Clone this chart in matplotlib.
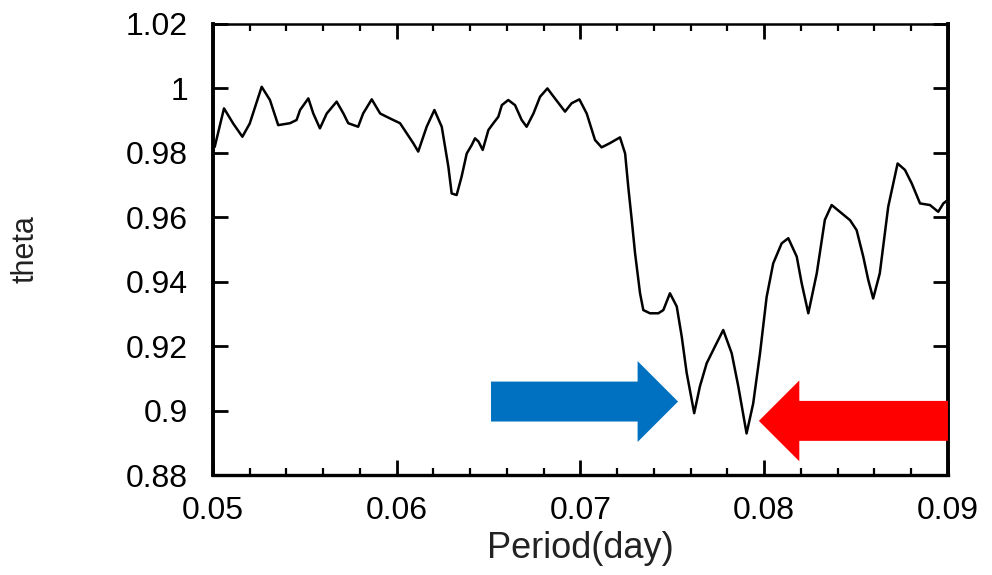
import numpy as np
import matplotlib.pyplot as plt
from matplotlib.patches import FancyArrow
from matplotlib.ticker import MultipleLocator, FormatStrFormatter

plt.rcParams['font.family'] = ['Liberation Sans', 'DejaVu Sans']

### data
period = [0.0501, 0.0506, 0.0511, 0.0516, 0.0520, 0.05265, 0.0531, 0.05355, 0.05419,
          0.05455, 0.05474, 0.05519, 0.05546, 0.05582, 0.05619, 0.05673, 0.0571,
          0.05736, 0.0579, 0.05817, 0.05864, 0.0591, 0.05945, 0.05981, 0.06018,
          0.06054, 0.0609, 0.06117, 0.06163, 0.06205, 0.06245, 0.06281, 0.06299,
          0.06326, 0.06353, 0.06381, 0.06408, 0.06426, 0.06445, 0.06468, 0.06499,
          0.06526, 0.06553, 0.06572, 0.06607, 0.06644, 0.0668, 0.06707, 0.06744,
          0.0678, 0.0682, 0.06861, 0.06916, 0.06952, 0.06994, 0.07034, 0.07079,
          0.07115, 0.0716, 0.07215, 0.07243, 0.0726, 0.07279, 0.07297, 0.07324,
          0.07342, 0.07378, 0.07424, 0.07451, 0.07487, 0.07524, 0.07551, 0.07578,
          0.07619, 0.0765, 0.07687, 0.07732, 0.07777, 0.07823, 0.07859, 0.07904,
          0.0794, 0.07977, 0.08013, 0.08049, 0.08095, 0.08131, 0.08177, 0.08204,
          0.0824, 0.08286, 0.0833, 0.08367, 0.08412, 0.08467, 0.08503, 0.08539,
          0.08566, 0.08593, 0.08629, 0.08675, 0.08726, 0.08766, 0.08803, 0.08848,
          0.08902, 0.08947, 0.08975, 0.0900]
theta = [0.9820, 0.9938, 0.9891, 0.9850, 0.9891, 1.0005, 0.9964, 0.9886, 0.9892,
         0.9902, 0.9933, 0.9969, 0.9922, 0.9876, 0.9922, 0.9959, 0.9922,
         0.9892, 0.9881, 0.9922, 0.9966, 0.9922, 0.9912, 0.9902, 0.9892,
         0.9861, 0.9830, 0.9804, 0.9881, 0.9933, 0.9881, 0.9757, 0.9674,
         0.9669, 0.9726, 0.9798, 0.9824, 0.9845, 0.9835, 0.9809, 0.9871,
         0.9892, 0.9912, 0.9948, 0.9964, 0.9948, 0.9902, 0.9881, 0.9922,
         0.9974, 1.0000, 0.9969, 0.9928, 0.9954, 0.9966, 0.9922, 0.9840,
         0.9817, 0.9830, 0.9848, 0.9798, 0.9695, 0.9592, 0.9489, 0.9365,
         0.9312, 0.9302, 0.9302, 0.9312, 0.9364, 0.9323, 0.9230, 0.9117,
         0.8992, 0.9075, 0.9147, 0.9199, 0.9250, 0.9178, 0.9075, 0.8929,
         0.9022, 0.9177, 0.9352, 0.9457, 0.9519, 0.9535, 0.9478, 0.9395,
         0.9302, 0.9426, 0.9592, 0.9638, 0.9617, 0.9591, 0.9560, 0.9478,
         0.9406, 0.9348, 0.9426, 0.9633, 0.9767, 0.9747, 0.9705, 0.9643,
         0.9638, 0.9617, 0.9643, 0.9654]

# arrows: (tail x, tip x, centre y)
blue_arrow = (0.06513, 0.07531, 0.9028)
red_arrow = (0.0900, 0.07971, 0.8968)

#######################################
###     Plot
#######################################
fig = plt.figure(figsize=(9.92, 5.75), dpi=100)
ax = fig.add_axes([0.2147, 0.1739, 0.7409, 0.7844])

ax.plot(period, theta, color='black', linewidth=1.8)

ax.set_xlim(0.05, 0.09)
ax.set_ylim(0.88, 1.02)
ax.xaxis.set_major_locator(MultipleLocator(0.01))
ax.xaxis.set_minor_locator(MultipleLocator(0.002))
ax.yaxis.set_major_locator(MultipleLocator(0.02))
ax.xaxis.set_major_formatter(FormatStrFormatter('%.2f'))
ax.yaxis.set_major_formatter(plt.FuncFormatter(lambda v, p: '%g' % round(v, 4)))

ax.tick_params(which='both', direction='in', top=True, right=True, labelsize=23)
ax.tick_params(which='major', length=11, width=2)
ax.tick_params(which='minor', length=5, width=1.6)
ax.tick_params(axis='x', pad=15)
ax.tick_params(axis='y', pad=18)
for side, lw in [('left', 2.8), ('right', 2.8), ('bottom', 2.4), ('top', 1.8)]:
    ax.spines[side].set_linewidth(lw)

ax.set_xlabel('Period(day)', fontsize=26, color='#222222', va='baseline')
ax.xaxis.set_label_coords(0.5, -0.184)
ax.set_ylabel('theta', fontsize=22, color='#222222')
ax.yaxis.set_label_coords(-0.235, 0.5)

body_w, head_w = 0.0124, 0.0251
for (x0, x1, yc), col in [(blue_arrow, '#0070C0'), (red_arrow, '#FF0000')]:
    arr = FancyArrow(x0, yc, x1 - x0, 0, width=body_w, head_width=head_w,
                     head_length=0.00220, length_includes_head=True,
                     color=col, linewidth=0, clip_on=False, zorder=3)
    ax.add_patch(arr)

fig.savefig('out.png', dpi=100)
